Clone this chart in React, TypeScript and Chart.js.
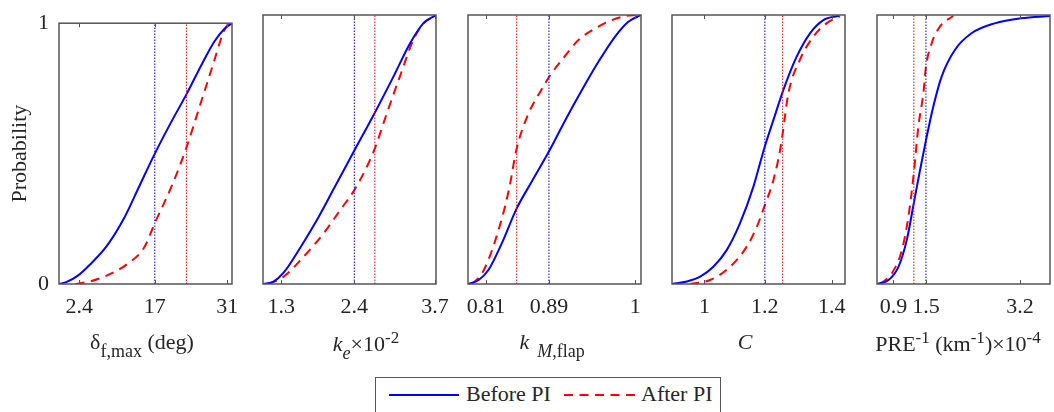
import React, { useEffect, useRef } from "react";
import { Chart, registerables } from "chart.js";

Chart.register(...registerables);

// ---------- data ----------
// Panel 1: delta_f,max (deg)
const P1_RANGE = [-1.5, 31.9];
const P1_TICKS = [2.4, 17, 31];
const P1_TICK_LABELS = ["2.4", "17", "31"];
const P1_BEFORE_X = [-1.46, 0.0, 2.0, 4.5, 7.7, 11.0, 14.0, 17.0, 20.0, 23.1, 26.0, 28.5, 30.5, 31.9];
const P1_BEFORE_P = [0, 0.008, 0.03, 0.075, 0.145, 0.25, 0.375, 0.5, 0.615, 0.727, 0.84, 0.93, 0.98, 1];
const P1_AFTER_X = [1.7, 4.5, 7.8, 11.7, 14.9, 17.1, 20.5, 23.1, 25.7, 28.3, 30.2, 31.2];
const P1_AFTER_P = [0, 0.01, 0.033, 0.077, 0.139, 0.238, 0.387, 0.523, 0.684, 0.845, 0.963, 1.0];
const P1_MEANS = [17, 23.1];

// Panel 2: k_e x 10^-2
const P2_RANGE = [1.015, 3.714];
const P2_TICKS = [1.3, 2.44, 3.7];
const P2_TICK_LABELS = ["1.3", "2.4", "3.7"];
const P2_BEFORE_X = [1.015, 1.18, 1.336, 1.596, 1.856, 2.115, 2.44, 2.753, 3.05, 3.31, 3.516, 3.714];
const P2_BEFORE_P = [0, 0.009, 0.042, 0.135, 0.238, 0.352, 0.496, 0.634, 0.771, 0.895, 0.969, 1];
const P2_AFTER_X = [1.1, 1.336, 1.647, 1.96, 2.22, 2.44, 2.635, 2.76, 2.946, 3.15, 3.36, 3.516, 3.647, 3.714];
const P2_AFTER_P = [0, 0.027, 0.101, 0.188, 0.275, 0.349, 0.436, 0.504, 0.634, 0.771, 0.907, 0.969, 0.99, 1];
const P2_MEANS = [2.44, 2.76];

// Panel 3: k_M,flap
const P3_RANGE = [0.787, 1.0072];
const P3_TICKS = [0.81, 0.89, 1];
const P3_TICK_LABELS = ["0.81", "0.89", "1"];
const P3_BEFORE_X = [0.787, 0.8006, 0.813, 0.83, 0.849, 0.868, 0.891, 0.911, 0.932, 0.953, 0.974, 0.991, 1.0072];
const P3_BEFORE_P = [0, 0.015, 0.052, 0.151, 0.281, 0.38, 0.498, 0.61, 0.721, 0.826, 0.919, 0.975, 1];
const P3_AFTER_X = [0.792, 0.805, 0.822, 0.839, 0.849, 0.864, 0.879, 0.891, 0.9065, 0.9276, 0.949, 0.97, 0.987, 1.0018];
const P3_AFTER_P = [0, 0.04, 0.164, 0.349, 0.504, 0.634, 0.715, 0.773, 0.833, 0.907, 0.95, 0.981, 0.996, 1];
const P3_MEANS = [0.89, 0.849];

// Panel 4: C
const P4_RANGE = [0.898, 1.442];
const P4_TICKS = [1, 1.19, 1.4];
const P4_TICK_LABELS = ["1", "1.2", "1.4"];
const P4_BEFORE_X = [0.898, 0.945, 0.9865, 1.028, 1.07, 1.112, 1.154, 1.188, 1.217, 1.248, 1.29, 1.332, 1.374, 1.423];
const P4_BEFORE_P = [0, 0.009, 0.027, 0.064, 0.126, 0.226, 0.362, 0.504, 0.61, 0.721, 0.845, 0.932, 0.981, 0.997];
const P4_AFTER_X = [0.955, 1.018, 1.081, 1.133, 1.165, 1.188, 1.217, 1.238, 1.246, 1.264, 1.3, 1.342, 1.384, 1.426];
const P4_AFTER_P = [0, 0.015, 0.064, 0.139, 0.213, 0.287, 0.387, 0.498, 0.56, 0.709, 0.833, 0.919, 0.969, 0.996];
const P4_MEANS = [1.19, 1.246];

// Panel 5: PRE^-1 (km^-1) x 10^-4
const P5_RANGE = [0.6, 3.746];
const P5_TICKS = [0.9, 1.49, 3.2];
const P5_TICK_LABELS = ["0.9", "1.5", "3.2"];
const P5_BEFORE_X = [0.6, 0.81, 0.99, 1.142, 1.269, 1.383, 1.491, 1.623, 1.775, 2.016, 2.318, 2.739, 3.22, 3.746];
const P5_BEFORE_P = [0, 0.015, 0.064, 0.164, 0.3, 0.424, 0.535, 0.659, 0.771, 0.87, 0.932, 0.969, 0.988, 0.996];
const P5_AFTER_X = [0.66, 0.871, 1.052, 1.171, 1.269, 1.352, 1.443, 1.491, 1.594, 1.745, 1.985];
const P5_AFTER_P = [0, 0.04, 0.126, 0.25, 0.411, 0.585, 0.709, 0.808, 0.895, 0.957, 0.996];
const P5_MEANS = [1.49, 1.27];

const SERIES_NAMES = ["Before PI", "After PI"];

// ---------- layout / style ----------
const FONT_FAMILY = '"Liberation Serif", "Times New Roman", Times, serif';
const TEXT_COLOR = "#262626";
const BLUE = "#0000ff";
const RED = "#ff0000";
const PLOT_LEFTS = [59, 263, 468, 672, 877];
const PLOT_WIDTH = 173;
const PLOT_TOP = 15;
const PLOT_BOTTOM = 284;
const CANVAS_H = 330;
const SIDE_PAD = 30;

type PanelDef = {
  range: number[];
  ticks: number[];
  labels: string[];
  bx: number[];
  bp: number[];
  ax: number[];
  ap: number[];
  means: number[];
};

const PANELS: PanelDef[] = [
  { range: P1_RANGE, ticks: P1_TICKS, labels: P1_TICK_LABELS, bx: P1_BEFORE_X, bp: P1_BEFORE_P, ax: P1_AFTER_X, ap: P1_AFTER_P, means: P1_MEANS },
  { range: P2_RANGE, ticks: P2_TICKS, labels: P2_TICK_LABELS, bx: P2_BEFORE_X, bp: P2_BEFORE_P, ax: P2_AFTER_X, ap: P2_AFTER_P, means: P2_MEANS },
  { range: P3_RANGE, ticks: P3_TICKS, labels: P3_TICK_LABELS, bx: P3_BEFORE_X, bp: P3_BEFORE_P, ax: P3_AFTER_X, ap: P3_AFTER_P, means: P3_MEANS },
  { range: P4_RANGE, ticks: P4_TICKS, labels: P4_TICK_LABELS, bx: P4_BEFORE_X, bp: P4_BEFORE_P, ax: P4_AFTER_X, ap: P4_AFTER_P, means: P4_MEANS },
  { range: P5_RANGE, ticks: P5_TICKS, labels: P5_TICK_LABELS, bx: P5_BEFORE_X, bp: P5_BEFORE_P, ax: P5_AFTER_X, ap: P5_AFTER_P, means: P5_MEANS },
];

const boxPlugin = {
  id: "matlabBox",
  afterDraw(chart: any) {
    const { ctx, chartArea } = chart;
    const xs = chart.scales.x;
    const ticks: number[] = chart.options.plugins.matlabBox.ticks;
    ctx.save();
    ctx.strokeStyle = "#555555";
    ctx.lineWidth = 1.5;
    ctx.strokeRect(chartArea.left, chartArea.top, chartArea.right - chartArea.left, chartArea.bottom - chartArea.top);
    ctx.beginPath();
    for (const v of ticks) {
      const px = Math.round(xs.getPixelForValue(v)) + 0.5;
      ctx.moveTo(px, chartArea.bottom);
      ctx.lineTo(px, chartArea.bottom - 4);
      ctx.moveTo(px, chartArea.top);
      ctx.lineTo(px, chartArea.top + 4);
    }
    ctx.lineWidth = 1;
    ctx.stroke();
    ctx.restore();
  },
};

function Panel({ idx }: { idx: number }) {
  const ref = useRef<HTMLCanvasElement | null>(null);
  const def = PANELS[idx];
  const first = idx === 0;
  const canvasLeft = first ? 0 : PLOT_LEFTS[idx] - SIDE_PAD;
  const canvasW = first ? PLOT_LEFTS[0] + PLOT_WIDTH + SIDE_PAD : PLOT_WIDTH + 2 * SIDE_PAD;

  useEffect(() => {
    if (!ref.current) return;
    const font = { family: FONT_FAMILY, size: 22 };
    const vline = (x: number, color: string) => ({
      data: [{ x, y: 0 }, { x, y: 1 }],
      borderColor: color,
      borderWidth: 1,
      borderDash: [1.5, 1.5],
      pointRadius: 0,
      showLine: true,
      tension: 0,
      fill: false,
    });
    const yScale: any = {
      type: "linear",
      min: 0,
      max: 1,
      display: first,
      grid: { display: false, drawTicks: false },
      border: { display: false },
      afterBuildTicks: (s: any) => {
        s.ticks = [{ value: 0 }, { value: 1 }];
      },
      ticks: {
        padding: 10,
        color: TEXT_COLOR,
        font,
        callback: (v: any) => String(v),
      },
      title: {
        display: true,
        text: "Probability",
        color: TEXT_COLOR,
        font,
        padding: { top: 7, bottom: 0 },
      },
    };
    if (first) {
      yScale.afterFit = (s: any) => {
        s.width = PLOT_LEFTS[0];
      };
    }
    const chart = new Chart(ref.current, {
      type: "scatter",
      data: {
        datasets: [
          vline(def.means[0], BLUE),
          vline(def.means[1], RED),
          {
            label: SERIES_NAMES[0],
            data: def.bx.map((x, i) => ({ x, y: def.bp[i] })),
            borderColor: BLUE,
            borderWidth: 2,
            pointRadius: 0,
            showLine: true,
            cubicInterpolationMode: "monotone",
            fill: false,
          },
          {
            label: SERIES_NAMES[1],
            data: def.ax.map((x, i) => ({ x, y: def.ap[i] })),
            borderColor: RED,
            borderWidth: 2,
            borderDash: [9, 6.5],
            pointRadius: 0,
            showLine: true,
            cubicInterpolationMode: "monotone",
            fill: false,
          },
        ],
      } as any,
      options: {
        animation: false,
        responsive: false,
        devicePixelRatio: 1,
        layout: { padding: { left: first ? 0 : SIDE_PAD, right: SIDE_PAD, top: PLOT_TOP, bottom: 0 } },
        plugins: {
          legend: { display: false },
          tooltip: { enabled: false },
          matlabBox: { ticks: def.ticks },
        } as any,
        scales: {
          x: {
            type: "linear",
            min: def.range[0],
            max: def.range[1],
            grid: { display: false, drawTicks: false },
            border: { display: false },
            afterBuildTicks: (s: any) => {
              s.ticks = def.ticks.map((v) => ({ value: v }));
            },
            afterFit: (s: any) => {
              s.height = CANVAS_H - PLOT_BOTTOM;
            },
            ticks: {
              autoSkip: false,
              maxRotation: 0,
              minRotation: 0,
              padding: 10,
              color: TEXT_COLOR,
              font,
              callback: (_v: any, i: number) => def.labels[i],
            },
          },
          y: yScale,
        },
      } as any,
      plugins: [boxPlugin],
    });
    return () => chart.destroy();
  }, [idx]);

  return (
    <canvas
      ref={ref}
      width={canvasW}
      height={CANVAS_H}
      style={{ position: "absolute", left: canvasLeft, top: 0, width: canvasW, height: CANVAS_H }}
    />
  );
}

const titleBase: React.CSSProperties = {
  position: "absolute",
  top: 331,
  transform: "translateX(-50%)",
  fontFamily: FONT_FAMILY,
  fontSize: 22,
  lineHeight: "22px",
  whiteSpace: "nowrap",
  color: TEXT_COLOR,
};
const subStyle: React.CSSProperties = { fontSize: 18, position: "relative", top: 8 };
const supStyle: React.CSSProperties = { fontSize: 17, position: "relative", top: -8 };

export default function App() {
  return (
    <div
      style={{
        position: "absolute",
        left: 0,
        top: 0,
        width: 1054,
        height: 412,
        overflow: "hidden",
        background: "#fff",
      }}
    >
      {PANELS.map((_, i) => (
        <Panel key={i} idx={i} />
      ))}

      <div style={{ ...titleBase, left: 142 }}>
        <span>δ</span>
        <span style={subStyle}>f,max</span>
        <span> (deg)</span>
      </div>
      <div style={{ ...titleBase, left: 366, top: 333 }}>
        <i>k</i>
        <i style={subStyle}>e</i>
        <span>×10</span>
        <span style={supStyle}>-2</span>
      </div>
      <div style={{ ...titleBase, left: 552 }}>
        <i>k</i>
        <span style={{ ...subStyle, marginLeft: 8 }}>
          <i>M</i>,flap
        </span>
      </div>
      <div style={{ ...titleBase, left: 745 }}>
        <i>C</i>
      </div>
      <div style={{ ...titleBase, left: 958, top: 333 }}>
        <span>PRE</span>
        <span style={supStyle}>-1</span>
        <span> (km</span>
        <span style={supStyle}>-1</span>
        <span>)×10</span>
        <span style={supStyle}>-4</span>
      </div>

      <div
        style={{
          position: "absolute",
          left: 375,
          top: 377,
          width: 346,
          height: 60,
          boxSizing: "border-box",
          border: "1px solid #555",
          background: "#fff",
          fontFamily: FONT_FAMILY,
          fontSize: 22,
          lineHeight: "22px",
          color: TEXT_COLOR,
        }}
      >
        <svg style={{ position: "absolute", left: 13, top: 15 }} width={72} height={4}>
          <line x1={0} y1={2} x2={70} y2={2} stroke={BLUE} strokeWidth={2} />
        </svg>
        <span style={{ position: "absolute", left: 90, top: 5, whiteSpace: "nowrap" }}>{SERIES_NAMES[0]}</span>
        <svg style={{ position: "absolute", left: 188, top: 15 }} width={72} height={4}>
          <line x1={0} y1={2} x2={71} y2={2} stroke={RED} strokeWidth={2} strokeDasharray="9 6.5" />
        </svg>
        <span style={{ position: "absolute", left: 265, top: 5, whiteSpace: "nowrap" }}>{SERIES_NAMES[1]}</span>
      </div>
    </div>
  );
}
